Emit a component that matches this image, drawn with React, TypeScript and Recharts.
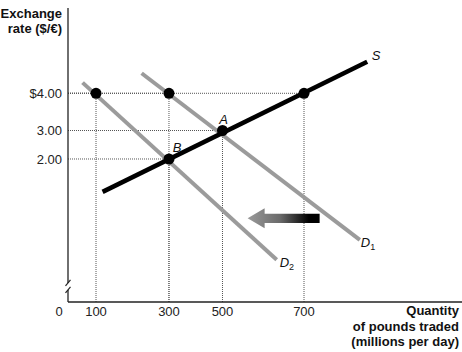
import {
    ComposedChart,
    Line,
    Scatter,
    XAxis,
    YAxis,
    ReferenceLine,
    ReferenceDot,
} from "recharts";

// quantity of pounds traded (millions per day) and exchange rate ($/€)
const quantityTicks = [0, 100, 300, 500, 700];
const rateTicks = [2, 3, 4];

const supplyQ = [118, 820];
const supplyP = [1.54, 4.74];
const demand1Q = [225, 806];
const demand1P = [4.47, 0.87];
const demand2Q = [52, 633];
const demand2P = [4.25, 0.59];

const pointQ = [100, 300, 700, 500, 300];
const pointP = [4, 4, 4, 3, 2];
const pointNames = ["", "", "", "A", "B"];

const shiftQ = [650];
const shiftP = [1.17];

// the diagram is not drawn to scale: axis knots place the labelled values
const xKnots = [0, 100, 300, 500, 700, 1000];
const xKnotFrac = [0, 0.0711, 0.2563, 0.3921, 0.599, 1];
const yKnots = [0, 2, 3, 4, 6];
const yKnotFrac = [0, 0.4864, 0.5833, 0.7099, 1];

const FONT = '"Liberation Sans", Arial, Helvetica, sans-serif';
const GUIDE = "#555";

function makeKnotScale(knots: number[], fracs: number[]): any {
    let dom: number[] = [knots[0], knots[knots.length - 1]];
    let rng: number[] = [0, 1];

    const warp = (v: number) => {
        let i = 0;
        while (i < knots.length - 2 && v > knots[i + 1]) i++;
        const t = (v - knots[i]) / (knots[i + 1] - knots[i]);
        return fracs[i] + t * (fracs[i + 1] - fracs[i]);
    };

    const scale: any = (v: number) => rng[0] + (rng[1] - rng[0]) * warp(Number(v));
    scale.domain = (d?: number[]) => {
        if (d === undefined) return dom;
        dom = [...d];
        return scale;
    };
    scale.range = (r?: number[]) => {
        if (r === undefined) return rng;
        rng = [...r];
        return scale;
    };
    scale.copy = () => makeKnotScale(knots, fracs).domain(dom).range(rng);
    scale.ticks = () => knots;
    return scale;
}

const xScale = makeKnotScale(xKnots, xKnotFrac);
const yScale = makeKnotScale(yKnots, yKnotFrac);

const toRows = (qs: number[], ps: number[]) => qs.map((q, i) => ({ q, p: ps[i] }));

const supplyData = toRows(supplyQ, supplyP);
const demand1Data = toRows(demand1Q, demand1P);
const demand2Data = toRows(demand2Q, demand2P);
const pointData = pointQ.map((q, i) => ({ q, p: pointP[i], name: pointNames[i] }));
const shiftData = toRows(shiftQ, shiftP);

function curveLabel(name: string, sub: string, dx: number, dy: number) {
    return (props: any) => {
        const { cx, cy, index } = props;
        if (index !== 1) return <g key={`d${index}`} />;
        return (
            <text
                key={`d${index}`}
                x={cx + dx}
                y={cy + dy}
                fontFamily={FONT}
                fontSize={13}
                fontStyle="italic"
                fill="#111"
            >
                {name}
                {sub ? (
                    <tspan fontSize={9} dy={3} fontStyle="normal">
                        {sub}
                    </tspan>
                ) : null}
            </text>
        );
    };
}

function PointShape(props: any) {
    const { cx, cy, payload } = props;
    const name = payload?.name;
    return (
        <g>
            <circle cx={cx} cy={cy} r={5.5} fill="#000" />
            {name ? (
                <text
                    x={name === "A" ? cx + 1 : cx + 8}
                    y={cy - 7}
                    textAnchor="middle"
                    fontFamily={FONT}
                    fontSize={13}
                    fontStyle="italic"
                    fill="#111"
                >
                    {name}
                </text>
            ) : null}
        </g>
    );
}

function ArrowShape(props: any) {
    const { cx, cy } = props;
    const d = [
        `M${cx - 36},${cy}`,
        `L${cx - 19},${cy - 10}`,
        `L${cx - 19},${cy - 4.7}`,
        `L${cx + 36},${cy - 4.7}`,
        `L${cx + 36},${cy + 4.7}`,
        `L${cx - 19},${cy + 4.7}`,
        `L${cx - 19},${cy + 10}`,
        "Z",
    ].join(" ");
    return (
        <g>
            <defs>
                <linearGradient id="shiftFill" x1="0" y1="0" x2="1" y2="0">
                    <stop offset="0%" stopColor="#9a9a9a" />
                    <stop offset="45%" stopColor="#6a6a6a" />
                    <stop offset="85%" stopColor="#000" />
                </linearGradient>
            </defs>
            <path d={d} fill="url(#shiftFill)" />
        </g>
    );
}

function AxisBreak(props: any) {
    const { cx, cy } = props;
    return (
        <g>
            <rect x={cx - 3} y={cy - 4} width={6} height={7} fill="#fff" />
            <line x1={cx - 2.5} y1={cy - 1} x2={cx + 2.5} y2={cy - 7} stroke="#222" strokeWidth={1.2} />
            <line x1={cx - 2.5} y1={cy + 6} x2={cx + 2.5} y2={cy} stroke="#222" strokeWidth={1.2} />
        </g>
    );
}

function QuantityTick(props: any) {
    const { x, y, payload } = props;
    const v = payload.value;
    return (
        <text
            x={v === 0 ? x - 9 : x}
            y={y}
            dy="0.71em"
            textAnchor="middle"
            fontFamily={FONT}
            fontSize={13}
            fill="#222"
        >
            {v}
        </text>
    );
}

function formatRate(v: number) {
    return v === 4 ? "$4.00" : v.toFixed(2);
}

export default function App() {
    const labelStyle = {
        position: "absolute" as const,
        fontFamily: FONT,
        fontWeight: 700,
        fontSize: 13,
        color: "#111",
        textAlign: "right" as const,
        whiteSpace: "nowrap" as const,
    };

    return (
        <div style={{ position: "relative", width: 462, height: 352, background: "#fff" }}>
            <style>{"body{margin:0}"}</style>
            <ComposedChart
                width={462}
                height={352}
                margin={{ top: 8, right: 0, bottom: 0, left: 0 }}
            >
                <XAxis
                    type="number"
                    dataKey="q"
                    domain={[0, 1000]}
                    scale={xScale}
                    ticks={quantityTicks}
                    tick={<QuantityTick />}
                    tickLine={false}
                    tickSize={4}
                    tickMargin={1}
                    height={50}
                    axisLine={{ stroke: "#222", strokeWidth: 1.3 }}
                    allowDataOverflow
                />
                <YAxis
                    type="number"
                    dataKey="p"
                    domain={[0, 6]}
                    scale={yScale}
                    ticks={rateTicks}
                    tickFormatter={formatRate}
                    tickLine={false}
                    tickMargin={0}
                    width={68}
                    tick={{ fill: "#222", fontSize: 13, fontFamily: FONT }}
                    axisLine={{ stroke: "#222", strokeWidth: 1.3 }}
                    allowDataOverflow
                />

                {pointData.map((pt, i) => (
                    <ReferenceLine
                        key={`h${i}`}
                        segment={[
                            { x: 0, y: pt.p },
                            { x: pt.q, y: pt.p },
                        ]}
                        stroke={GUIDE}
                        strokeDasharray="1 1"
                        strokeWidth={1}
                    />
                ))}
                {pointData.map((pt, i) => (
                    <ReferenceLine
                        key={`v${i}`}
                        segment={[
                            { x: pt.q, y: 0 },
                            { x: pt.q, y: pt.p },
                        ]}
                        stroke={GUIDE}
                        strokeDasharray="1 1"
                        strokeWidth={1}
                    />
                ))}

                <ReferenceDot x={0} y={0.21} shape={AxisBreak} ifOverflow="visible" />

                <Line
                    data={demand2Data}
                    dataKey="p"
                    type="linear"
                    stroke="#9b9b9b"
                    strokeWidth={4}
                    dot={curveLabel("D", "2", 3, 7)}
                    activeDot={false}
                    isAnimationActive={false}
                />
                <Line
                    data={demand1Data}
                    dataKey="p"
                    type="linear"
                    stroke="#9b9b9b"
                    strokeWidth={4}
                    dot={curveLabel("D", "1", 1, 7)}
                    activeDot={false}
                    isAnimationActive={false}
                />
                <Line
                    data={supplyData}
                    dataKey="p"
                    type="linear"
                    stroke="#000"
                    strokeWidth={4.5}
                    dot={curveLabel("S", "", 4.5, -2)}
                    activeDot={false}
                    isAnimationActive={false}
                />
                <Scatter data={shiftData} shape={ArrowShape} isAnimationActive={false} />
                <Scatter data={pointData} shape={PointShape} isAnimationActive={false} />
            </ComposedChart>

            <div style={{ ...labelStyle, right: 400, top: 7, lineHeight: "14.5px" }}>
                Exchange
                <br />
                rate ($/€)
            </div>
            <div style={{ ...labelStyle, right: 3, top: 303, lineHeight: "15.5px" }}>
                Quantity
                <br />
                of pounds traded
                <br />
                (millions per day)
            </div>
        </div>
    );
}
